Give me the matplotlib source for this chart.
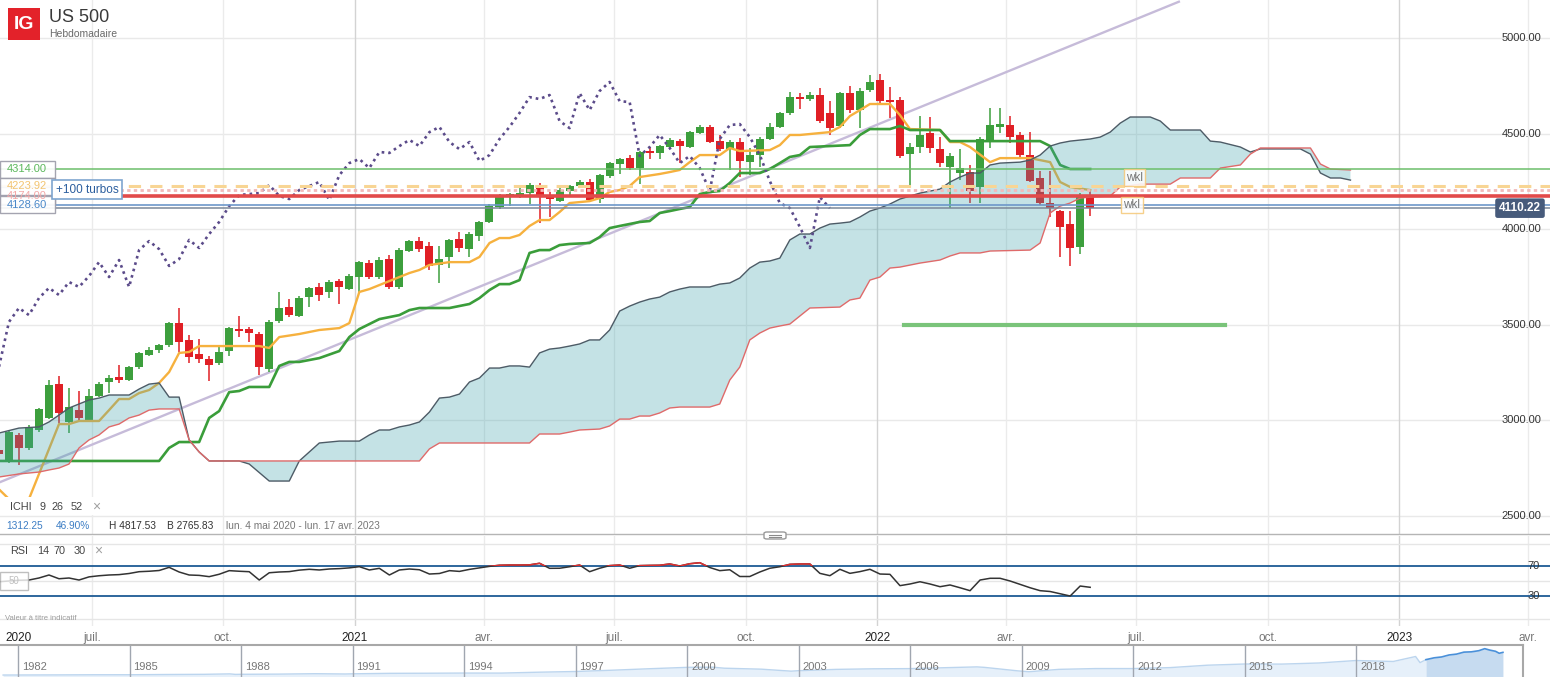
import numpy as np
import matplotlib
matplotlib.use("Agg")
from matplotlib import pyplot as plt
from matplotlib import dates as mdates
from matplotlib import transforms as mtransforms
from matplotlib.patches import Rectangle, FancyBboxPatch
from matplotlib.lines import Line2D

plt.rcParams['font.family'] = ['Liberation Sans', 'DejaVu Sans']

W, H = 1550, 677

# ---------------- data ----------------
# weekly candles, index -1 = week of Mon 27 Apr 2020, index 0 = Mon 4 May 2020
week_zero = np.datetime64("2020-05-04")
opens = [2845, 2788, 2924, 2856, 2950, 3013, 3190, 2992, 3054, 3002,
         3128, 3201, 3227, 3211, 3279, 3342, 3368, 3394, 3509, 3421,
         3347, 3321, 3300, 3363, 3478, 3478, 3452, 3269, 3520, 3593,
         3546, 3645, 3698, 3672, 3729, 3687, 3750, 3823, 3750, 3844,
         3698, 3886, 3938, 3912, 3813, 3855, 3949, 3896, 3964, 4038,
         4116, 4168, 4174, 4189, 4231, 4174, 4147, 4200, 4226, 4247,
         4158, 4278, 4341, 4372, 4320, 4409, 4399, 4430, 4461, 4430,
         4503, 4535, 4461, 4419, 4456, 4351, 4388, 4472, 4535, 4608,
         4691, 4681, 4702, 4608, 4540, 4712, 4623, 4728, 4780, 4676,
         4676, 4393, 4430, 4503, 4420, 4325, 4294, 4299, 4221, 4456,
         4535, 4545, 4493, 4388, 4268, 4137, 4095, 4027, 3907, 4168]
highs = [2870, 2945, 2935, 2976, 3065, 3211, 3232, 3170, 3154, 3164,
         3200, 3237, 3290, 3285, 3360, 3384, 3400, 3515, 3588, 3447,
         3426, 3337, 3394, 3490, 3546, 3490, 3465, 3525, 3672, 3635,
         3650, 3700, 3719, 3735, 3740, 3765, 3835, 3840, 3855, 3865,
         3900, 3945, 3959, 3933, 3912, 3950, 3985, 3985, 4045, 4130,
         4185, 4189, 4215, 4240, 4242, 4195, 4215, 4231, 4255, 4263,
         4290, 4351, 4372, 4388, 4410, 4430, 4442, 4475, 4470, 4515,
         4545, 4545, 4493, 4465, 4477, 4425, 4480, 4555, 4615, 4718,
         4712, 4718, 4738, 4670, 4720, 4749, 4738, 4806, 4812, 4744,
         4690, 4451, 4592, 4587, 4482, 4399, 4419, 4336, 4480, 4634,
         4634, 4592, 4508, 4508, 4304, 4304, 4100, 4095, 4189, 4200]
lows = [2800, 2778, 2767, 2845, 2940, 3005, 2986, 2934, 3002, 2990,
        3120, 3143, 3196, 3205, 3270, 3335, 3353, 3385, 3358, 3300,
        3300, 3206, 3290, 3337, 3436, 3410, 3238, 3255, 3510, 3540,
        3540, 3593, 3625, 3640, 3609, 3680, 3666, 3740, 3740, 3690,
        3690, 3880, 3881, 3787, 3719, 3797, 3881, 3855, 3938, 4033,
        4106, 4121, 4165, 4132, 4033, 4064, 4140, 4168, 4220, 4145,
        4137, 4270, 4289, 4310, 4236, 4367, 4367, 4425, 4346, 4425,
        4498, 4450, 4410, 4310, 4273, 4283, 4325, 4465, 4528, 4600,
        4629, 4670, 4555, 4493, 4530, 4608, 4529, 4720, 4660, 4582,
        4375, 4221, 4399, 4399, 4325, 4111, 4257, 4137, 4137, 4425,
        4503, 4451, 4378, 4245, 4127, 4064, 3855, 3808, 3870, 4069]
closes = [2824, 2939, 2856, 2960, 3060, 3185, 3039, 3070, 3013, 3128,
          3190, 3222, 3211, 3279, 3353, 3368, 3394, 3509, 3410, 3332,
          3321, 3290, 3358, 3483, 3468, 3457, 3279, 3515, 3588, 3551,
          3640, 3693, 3656, 3724, 3698, 3755, 3828, 3750, 3839, 3698,
          3891, 3938, 3896, 3808, 3844, 3944, 3902, 3975, 4038, 4121,
          4179, 4184, 4189, 4231, 4174, 4158, 4205, 4226, 4247, 4153,
          4283, 4346, 4367, 4320, 4404, 4399, 4435, 4467, 4435, 4508,
          4535, 4456, 4419, 4456, 4357, 4388, 4472, 4535, 4608, 4691,
          4681, 4702, 4566, 4529, 4712, 4623, 4723, 4770, 4670, 4665,
          4383, 4430, 4493, 4425, 4346, 4383, 4320, 4200, 4472, 4545,
          4550, 4482, 4388, 4252, 4137, 4111, 4012, 3902, 4168, 4110]

rsi_values = [49, 50, 51, 51.3, 54, 58, 53, 54, 51.3, 55.5,
              57, 58, 58.5, 60, 62.4, 63, 64, 68.2, 62, 58,
              57.5, 55.8, 59, 63.8, 63, 62.4, 51.3, 61, 62, 62.5,
              64.5, 65.6, 64.7, 66, 66.5, 67.5, 69.1, 64.7, 66.9, 58,
              64.7, 66, 65, 59.3, 60, 63.8, 62.8, 65.5, 67.5, 69.5,
              71, 71.3, 71.3, 71.5, 73.6, 66.9, 67, 69, 71.3, 62.4,
              67, 70.5, 71.3, 67, 70.5, 70.8, 71, 72.7, 70, 73,
              74.4, 68, 63.8, 65, 56, 56, 62, 67, 69, 72.2,
              72.7, 72.7, 60.2, 57.1, 65.6, 60.2, 62.5, 65.6, 59.3, 58.9,
              43.8, 46, 49, 46, 42.4, 44.7, 41, 37.1, 51.3, 53.6,
              53.6, 50, 45.5, 41, 37.1, 36, 33, 30, 43.3, 41.6]

# ichimoku lines as (week index where drawn, price)
tenkan = [(-1, 2640), (0, 2589), (2, 2589), (5, 2981), (6, 2981), (7, 2997), (9, 2997),
          (10, 3054), (11, 3112), (12, 3112), (13, 3143), (14, 3159), (15, 3196), (16, 3253),
          (17, 3353), (18, 3358), (19, 3389), (25, 3389), (26, 3379), (27, 3436), (29, 3452),
          (31, 3473), (33, 3483), (34, 3509), (35, 3672), (36, 3687), (37, 3708), (38, 3729),
          (39, 3750), (40, 3771), (41, 3787), (42, 3813), (44, 3828), (46, 3828), (47, 3855),
          (48, 3928), (49, 3954), (50, 3954), (51, 3970), (52, 4017), (53, 4048), (54, 4048),
          (55, 4090), (56, 4137), (57, 4142), (58, 4147), (59, 4163), (60, 4195), (61, 4205),
          (62, 4226), (63, 4273), (65, 4289), (66, 4299), (67, 4310), (68, 4351), (69, 4388),
          (71, 4388), (72, 4425), (73, 4409), (76, 4414), (77, 4440), (78, 4493), (79, 4493),
          (81, 4503), (82, 4508), (83, 4535), (84, 4592), (85, 4623), (86, 4655), (88, 4655),
          (89, 4597), (90, 4524), (93, 4519), (94, 4456), (95, 4456), (96, 4430), (98, 4351),
          (99, 4372), (102, 4372), (104, 4351), (105, 4247), (106, 4221), (108, 4205)]
kijun = [(-1, 2788), (15, 2788), (16, 2856), (17, 2887), (19, 2887), (20, 3013), (21, 3049),
         (22, 3148), (23, 3154), (24, 3175), (26, 3175), (27, 3285), (28, 3306), (29, 3306),
         (31, 3326), (33, 3363), (34, 3436), (35, 3478), (37, 3530), (39, 3551), (40, 3577),
         (41, 3588), (44, 3588), (46, 3609), (47, 3640), (48, 3682), (49, 3713), (50, 3713),
         (51, 3734), (52, 3876), (53, 3891), (54, 3891), (55, 3917), (56, 3923), (58, 3928),
         (59, 3959), (60, 4006), (61, 4017), (63, 4038), (64, 4043), (65, 4085), (66, 4095),
         (67, 4106), (68, 4116), (69, 4184), (70, 4195), (71, 4200), (72, 4242), (73, 4294),
         (75, 4294), (76, 4315), (77, 4346), (78, 4378), (79, 4388), (80, 4430), (84, 4440),
         (85, 4493), (86, 4524), (88, 4524), (89, 4540), (90, 4519), (93, 4519), (94, 4461),
         (103, 4461), (104, 4435), (105, 4336), (106, 4315), (108, 4315)]
senkou_a = [(-1, 2934), (1, 2960), (3, 2966), (4, 2992), (5, 3028), (6, 3065), (8, 3107),
            (9, 3117), (10, 3133), (12, 3133), (13, 3164), (14, 3190), (15, 3196), (16, 3122),
            (17, 3122), (18, 2898), (19, 2835), (20, 2788), (23, 2788), (24, 2772), (26, 2683),
            (28, 2683), (29, 2788), (31, 2882), (33, 2892), (35, 2892), (36, 2924), (37, 2950),
            (38, 2950), (39, 2966), (40, 2976), (41, 2992), (42, 3044), (43, 3117), (44, 3122),
            (45, 3138), (46, 3201), (47, 3222), (48, 3274), (49, 3274), (50, 3285), (51, 3285),
            (52, 3279), (53, 3353), (54, 3373), (55, 3379), (56, 3389), (57, 3400), (58, 3421),
            (59, 3421), (60, 3473), (61, 3572), (62, 3598), (63, 3619), (64, 3635), (65, 3645),
            (66, 3672), (67, 3687), (68, 3698), (70, 3698), (71, 3713), (72, 3719), (73, 3745),
            (74, 3797), (75, 3828), (76, 3834), (77, 3849), (78, 3944), (79, 3975), (80, 3975),
            (81, 4006), (82, 4027), (83, 4032), (84, 4038), (85, 4064), (86, 4095), (87, 4111),
            (88, 4132), (89, 4158), (91, 4189), (93, 4210), (94, 4247), (95, 4273), (96, 4294),
            (97, 4294), (98, 4336), (99, 4346), (101, 4351), (102, 4362), (103, 4388),
            (104, 4435), (105, 4451), (106, 4461), (108, 4472), (109, 4482), (110, 4508),
            (111, 4555), (112, 4587), (114, 4587), (115, 4566), (116, 4519), (119, 4519),
            (120, 4461), (121, 4456), (123, 4430), (124, 4404), (125, 4420), (129, 4420),
            (130, 4393), (131, 4294), (132, 4268), (133, 4268), (134, 4257)]
senkou_b = [(-1, 2704), (1, 2720), (3, 2730), (4, 2741), (5, 2751), (6, 2772), (7, 2856),
            (8, 2898), (9, 2924), (10, 2966), (11, 2981), (12, 3013), (13, 3028), (14, 3054),
            (15, 3060), (17, 3060), (18, 2898), (19, 2835), (20, 2788), (41, 2788), (42, 2851),
            (43, 2882), (52, 2882), (53, 2929), (55, 2929), (56, 2939), (57, 2950), (59, 2955),
            (60, 2971), (61, 3007), (62, 3007), (63, 3023), (64, 3023), (65, 3039), (66, 3065),
            (67, 3070), (70, 3070), (71, 3086), (72, 3211), (73, 3279), (74, 3421), (75, 3457),
            (76, 3483), (77, 3494), (78, 3504), (79, 3546), (80, 3588), (83, 3593), (84, 3630),
            (85, 3640), (86, 3734), (87, 3750), (88, 3797), (89, 3802), (91, 3823), (93, 3839),
            (94, 3860), (95, 3876), (97, 3876), (98, 3886), (102, 3891), (103, 3928),
            (104, 4085), (105, 4121), (106, 4137), (107, 4163), (108, 4168), (110, 4174),
            (111, 4221), (113, 4236), (116, 4236), (117, 4268), (120, 4268), (121, 4320),
            (123, 4336), (124, 4393), (125, 4425), (130, 4425), (131, 4341), (132, 4315),
            (134, 4310)]
chikou_shift = 26

trend_dates = ["2020-04-28", "2022-07-31"]
trend_prices = [2678, 5190]
support_dates = ["2022-01-20", "2022-09-01"]
support_price = 3500

level_green = 4314.00
level_orange = 4223.92
level_pink = 4205.00
level_red = 4174.00
level_blue = 4128.60
last_price = 4110.22

price_ticks = [2500, 3000, 3500, 4000, 4500, 5000]
date_ticks = ["2020-07-01", "2020-10-01", "2021-01-01", "2021-04-01", "2021-07-01",
              "2021-10-01", "2022-01-01", "2022-04-01", "2022-07-01", "2022-10-01",
              "2023-01-01", "2023-04-01"]
date_labels = ["juil.", "oct.", "2021", "avr.", "juil.", "oct.", "2022", "avr.",
               "juil.", "oct.", "2023", "avr."]

nav_hist = [(1981.6, 118), (1983, 140), (1984, 164), (1985, 167), (1986, 211), (1987, 242),
            (1987.7, 320), (1987.85, 230), (1988, 247), (1989, 277), (1990, 353), (1990.8, 300),
            (1991, 330), (1992, 417), (1993, 435), (1994, 466), (1995, 459), (1996, 615),
            (1997, 740), (1998, 970), (1999, 1229), (2000, 1469), (2000.7, 1500), (2001, 1320),
            (2002, 1148), (2002.8, 800), (2003, 880), (2004, 1111), (2005, 1211), (2006, 1248),
            (2007, 1418), (2007.8, 1550), (2008, 1468), (2008.9, 850), (2009.2, 700),
            (2010, 1115), (2011, 1257), (2012, 1257), (2013, 1426), (2014, 1848), (2015, 2058),
            (2016, 2043), (2017, 2238), (2018, 2673), (2019, 2506), (2019.6, 3380),
            (2019.72, 2300), (2019.88, 2830)]
nav_sel = [(2019.88, 2830), (2020.1, 3150), (2020.3, 3300), (2020.5, 3650), (2020.7, 3800),
           (2020.9, 4150), (2021.1, 4200), (2021.3, 4400), (2021.46, 4760), (2021.6, 4500),
           (2021.75, 4300), (2021.85, 3950), (2021.95, 4110)]
nav_years = [1982, 1985, 1988, 1991, 1994, 1997, 2000, 2003, 2006, 2009, 2012, 2015, 2018]

GREEN = "#3d9f3d"
RED = "#e01f25"


def weeks_to_num(idx):
    return mdates.date2num(week_zero + np.asarray(idx) * np.timedelta64(7, "D"))


# ---------------- figure ----------------
fig = plt.figure(figsize=(W / 100, H / 100), dpi=100)
ax = fig.add_axes([0, 1 - 534 / H, 1, 534 / H])
ax_rsi = fig.add_axes([0, 1 - 626 / H, 1, 90 / H])
ax_nav = fig.add_axes([0, 0, 1523 / W, 32 / H])
for a in (ax, ax_rsi, ax_nav):
    a.set_axis_off()

x_left = mdates.date2num(np.datetime64("2020-04-27T18:00"))
x_right = mdates.date2num(np.datetime64("2023-04-16T12:00"))
ax.set_xlim(x_left, x_right)
ax.set_ylim(2406, 5199)
ax_rsi.set_xlim(x_left, x_right)
ax_rsi.set_ylim(-10, 110)

# grid
for p in price_ticks:
    ax.axhline(p, color="#e9e9e9", lw=1, zorder=0.5)
for d, lab in zip(date_ticks, date_labels):
    xd = mdates.date2num(np.datetime64(d))
    col = "#d3d3d3" if lab.isdigit() else "#ebebeb"
    ax.axvline(xd, color=col, lw=1, zorder=0.5)
    ax_rsi.axvline(xd, color=col, lw=1, zorder=0.5)

# candles
o = np.array(opens, float)
h = np.array(highs, float)
l = np.array(lows, float)
c = np.array(closes, float)
wk_idx = np.arange(-1, -1 + len(c))
xw = weeks_to_num(wk_idx)
cols = np.where(c >= o, GREEN, RED)
ax.vlines(xw, l, h, colors=cols, lw=1.1, zorder=2)
ax.bar(xw, np.maximum(np.abs(c - o), 7), bottom=np.minimum(o, c), width=5.6,
       color=cols, linewidth=0, zorder=2.1)

# trend line
ax.plot(mdates.date2num(np.array(trend_dates, dtype="datetime64[D]")), trend_prices,
        color="#c6bbd9", lw=1.7, zorder=1.5)

# tenkan / kijun
tk = np.array(tenkan, float)
kj = np.array(kijun, float)
ax.plot(weeks_to_num(tk[:, 0].astype(int)), tk[:, 1], color="#f6b13e", lw=1.7, zorder=3)
ax.plot(weeks_to_num(kj[:, 0].astype(int)), kj[:, 1], color="#3a9d3a", lw=1.9, zorder=3)

# cloud
sa = np.array(senkou_a, float)
sb = np.array(senkou_b, float)
xa = weeks_to_num(sa[:, 0].astype(int))
xb = weeks_to_num(sb[:, 0].astype(int))
ax.fill(np.concatenate([xa, xb[::-1]]), np.concatenate([sa[:, 1], sb[:, 1][::-1]]),
        color="#3ea2ac", alpha=0.3, lw=0, zorder=4)
ax.plot(xa, sa[:, 1], color="#4d5b66", lw=1.0, zorder=4.5)
ax.plot(xb, sb[:, 1], color="#df6a6a", lw=1.0, zorder=4.5)

# chikou (close drawn 26 weeks back)
ax.plot(xw[:len(c) - chikou_shift], c[chikou_shift:], color="#5b4b8a", lw=1.9,
        linestyle=(0, (1, 1.5)), zorder=5)

# horizontal levels
ax.axhline(level_green, color="#6cbf6b", lw=1.1, zorder=6)
ax.axhline(level_orange, color="#f8d594", lw=2.2, linestyle=(0, (4, 3)), zorder=6)
ax.axhline(level_pink, color="#f1baba", lw=2.0, linestyle=(0, (1.2, 1.2)), zorder=6)
ax.axhline(level_red, color="#e24a4a", lw=2.6, zorder=6)
ax.axhline(level_blue, color="#6d97c9", lw=1.2, zorder=6)
ax.axhline(last_price, color="#7b8798", lw=1.1, zorder=6)
ax.plot(mdates.date2num(np.array(support_dates, dtype="datetime64[D]")),
        [support_price, support_price], color="#7ac47a", lw=3, zorder=6)

blend = mtransforms.blended_transform_factory(ax.transAxes, ax.transData)

# right price labels
for p in price_ticks:
    ax.text(1541 / W, p, f"{p:.2f}", transform=blend, ha="right", va="center",
            fontsize=8, color="#333333", zorder=8)
ax.text(1520 / W, last_price, f"{last_price:.2f}", transform=blend, ha="center", va="center",
        fontsize=8.5, fontweight="bold", color="white", zorder=9,
        bbox=dict(boxstyle="round,pad=0.32,rounding_size=0.2", fc="#475b7b", ec="none"))

# left level boxes
box_h = 89
for val, tcol in [(level_green, "#5cb85c"), (level_red, "#f2a8a8"),
                  (level_orange, "#f3c470"), (level_blue, "#4a88c9")]:
    ax.add_patch(Rectangle((0, val - box_h / 2), 55 / W, box_h, transform=blend,
                           fc="white", ec="#9c9caa", lw=1, alpha=0.92, zorder=7))
    ax.text(27 / W, val, f"{val:.2f}", transform=blend, ha="center", va="center",
            fontsize=8, color=tcol, zorder=7.5)
ax.add_patch(Rectangle((52 / W, 4158), 70 / W, 99, transform=blend,
                       fc="white", ec="#7ea5cf", lw=1.2, zorder=7.6))
ax.text(56 / W, 4207, "+100 turbos", transform=blend, ha="left", va="center",
        fontsize=8.5, color="#2b5e9e", zorder=7.7)

# wkl tags
for d, p in [("2022-06-30", 4270), ("2022-06-28", 4127)]:
    ax.text(mdates.date2num(np.datetime64(d)), p, "wkl", ha="center", va="center",
            fontsize=8.5, color="#777777", zorder=8,
            bbox=dict(boxstyle="square,pad=0.2", fc="white", ec="#f5c877", lw=1, alpha=0.85))

# ---------------- RSI ----------------
for v in (0, 50, 100):
    ax_rsi.axhline(v, color="#e6e6e6", lw=1, zorder=0.6)
ax_rsi.axhline(70, color="#1d5a94", lw=1.3, zorder=1)
ax_rsi.axhline(30, color="#1d5a94", lw=1.3, zorder=1)
ax_rsi.plot(xw, rsi_values, color="#333333", lw=1.1, zorder=3)
rsi_red, = ax_rsi.plot(xw, rsi_values, color="#e03030", lw=1.1, zorder=3.1)
rsi_red.set_clip_path(Rectangle((x_left, 70), x_right - x_left, 40, transform=ax_rsi.transData))
blend_r = mtransforms.blended_transform_factory(ax_rsi.transAxes, ax_rsi.transData)
for v in (70, 30):
    ax_rsi.text(1540 / W, v, str(v), transform=blend_r, ha="right", va="center",
                fontsize=8, color="#333333")
ax_rsi.add_patch(Rectangle((0, 38), 28 / W, 24, transform=blend_r, fc="white",
                           ec="#b0b0b0", lw=1, alpha=0.8, zorder=4))
ax_rsi.text(14 / W, 50, "50", transform=blend_r, ha="center", va="center",
            fontsize=7, color="#c0c0c0", zorder=5)

# date labels
blend_d = mtransforms.blended_transform_factory(ax_rsi.transData, ax_rsi.transAxes)
for d, lab in zip(date_ticks, date_labels):
    ax_rsi.text(mdates.date2num(np.datetime64(d)), -0.13, lab, transform=blend_d,
                ha="center", va="center", fontsize=8.5,
                color="#222222" if lab.isdigit() else "#777777", clip_on=False)
ax_rsi.text(5 / W, -0.13, "2020", transform=ax_rsi.transAxes, ha="left", va="center",
            fontsize=8.5, color="#222222", clip_on=False)
ax_rsi.text(5 / W, (626 - 618) / 90, "Valeur à titre indicatif", transform=ax_rsi.transAxes,
            ha="left", va="center", fontsize=5.5, color="#9a9a9a")

# ---------------- navigator ----------------
ax_nav.set_xlim(1981.516, 1981.516 + 1523 / 37.17)
ax_nav.set_ylim(-229, 5405)
nh = np.array(nav_hist, float)
ns = np.array(nav_sel, float)
ax_nav.fill_between(nh[:, 0], nh[:, 1], -229, color="#e6f0fa", lw=0)
ax_nav.plot(nh[:, 0], nh[:, 1], color="#bcd5ee", lw=1)
ax_nav.fill_between(ns[:, 0], ns[:, 1], -229, color="#c6dbf0", lw=0)
ax_nav.plot(ns[:, 0], ns[:, 1], color="#4a90d9", lw=1.2)
blend_n = mtransforms.blended_transform_factory(ax_nav.transData, ax_nav.transAxes)
lab_tr = mtransforms.offset_copy(blend_n, fig=fig, x=4, y=0, units="dots")
for yr in nav_years:
    ax_nav.axvline(yr, color="#a0a6b0", lw=1)
    ax_nav.text(yr, 10 / 32, str(yr), transform=lab_tr, ha="left", va="center",
                fontsize=8, color="#777777")
ax_nav.plot([0, 1], [1, 1], transform=ax_nav.transAxes, color="#a8a8a8", lw=1.5, clip_on=False)
ax_nav.plot([1, 1], [0, 1], transform=ax_nav.transAxes, color="#a8a8a8", lw=1.5, clip_on=False)


# ---------------- header / panel texts ----------------
def fx(px):
    return px / W


def fy(py):
    return 1 - py / H


fig.add_artist(Rectangle((fx(8), fy(40)), 32 / W, 32 / H, transform=fig.transFigure,
                         fc="#e3222a", ec="none", zorder=3))
fig.text(fx(24), fy(24.5), "IG", ha="center", va="center", fontsize=14, fontweight="bold",
         color="white", zorder=4)
fig.text(fx(49), fy(17), "US 500", ha="left", va="center", fontsize=13, color="#3a3a3a")
fig.text(fx(49), fy(34), "Hebdomadaire", ha="left", va="center", fontsize=7.5, color="#6a6a6a")

fig.add_artist(Rectangle((0, fy(515)), 105 / W, 18 / H, transform=fig.transFigure,
                         fc="white", ec="none", zorder=2.5))
for xp, s in [(10, "ICHI"), (39, "9"), (52, "26"), (71, "52")]:
    fig.text(fx(xp), fy(507), s, ha="left", va="center", fontsize=7.8, color="#444444")
fig.text(fx(92), fy(507), "×", ha="left", va="center", fontsize=10, color="#a0a0a0")

for xp, s, col in [(6, "1312.25", "#3c7dc4"), (56, "46.90%", "#3c7dc4"),
                   (109, "H 4817.53", "#333333"), (167, "B 2765.83", "#333333"),
                   (226, "lun. 4 mai 2020 - lun. 17 avr. 2023", "#777777")]:
    fig.text(fx(xp), fy(526), s, ha="left", va="center", fontsize=7.3, color=col)

for xp, s in [(10, "RSI"), (37, "14"), (54, "70"), (74, "30")]:
    fig.text(fx(xp), fy(551), s, ha="left", va="center", fontsize=7.8, color="#444444")
fig.text(fx(94), fy(551), "×", ha="left", va="center", fontsize=10, color="#a0a0a0")

# panel separator with handle
fig.add_artist(Line2D([0, 1], [fy(534), fy(534)], transform=fig.transFigure,
                      color="#b5b5b5", lw=1, zorder=3))
fig.add_artist(FancyBboxPatch((fx(764), fy(539)), 22 / W, 7 / H, transform=fig.transFigure,
                              boxstyle="round,pad=0,rounding_size=0.002",
                              fc="white", ec="#9a9a9a", lw=1, zorder=4))
for yy in (534.5, 536.5):
    fig.add_artist(Line2D([fx(769), fx(781)], [fy(yy), fy(yy)], transform=fig.transFigure,
                          color="#8a8a8a", lw=0.8, zorder=5))

fig.savefig("out.png", dpi=100)
